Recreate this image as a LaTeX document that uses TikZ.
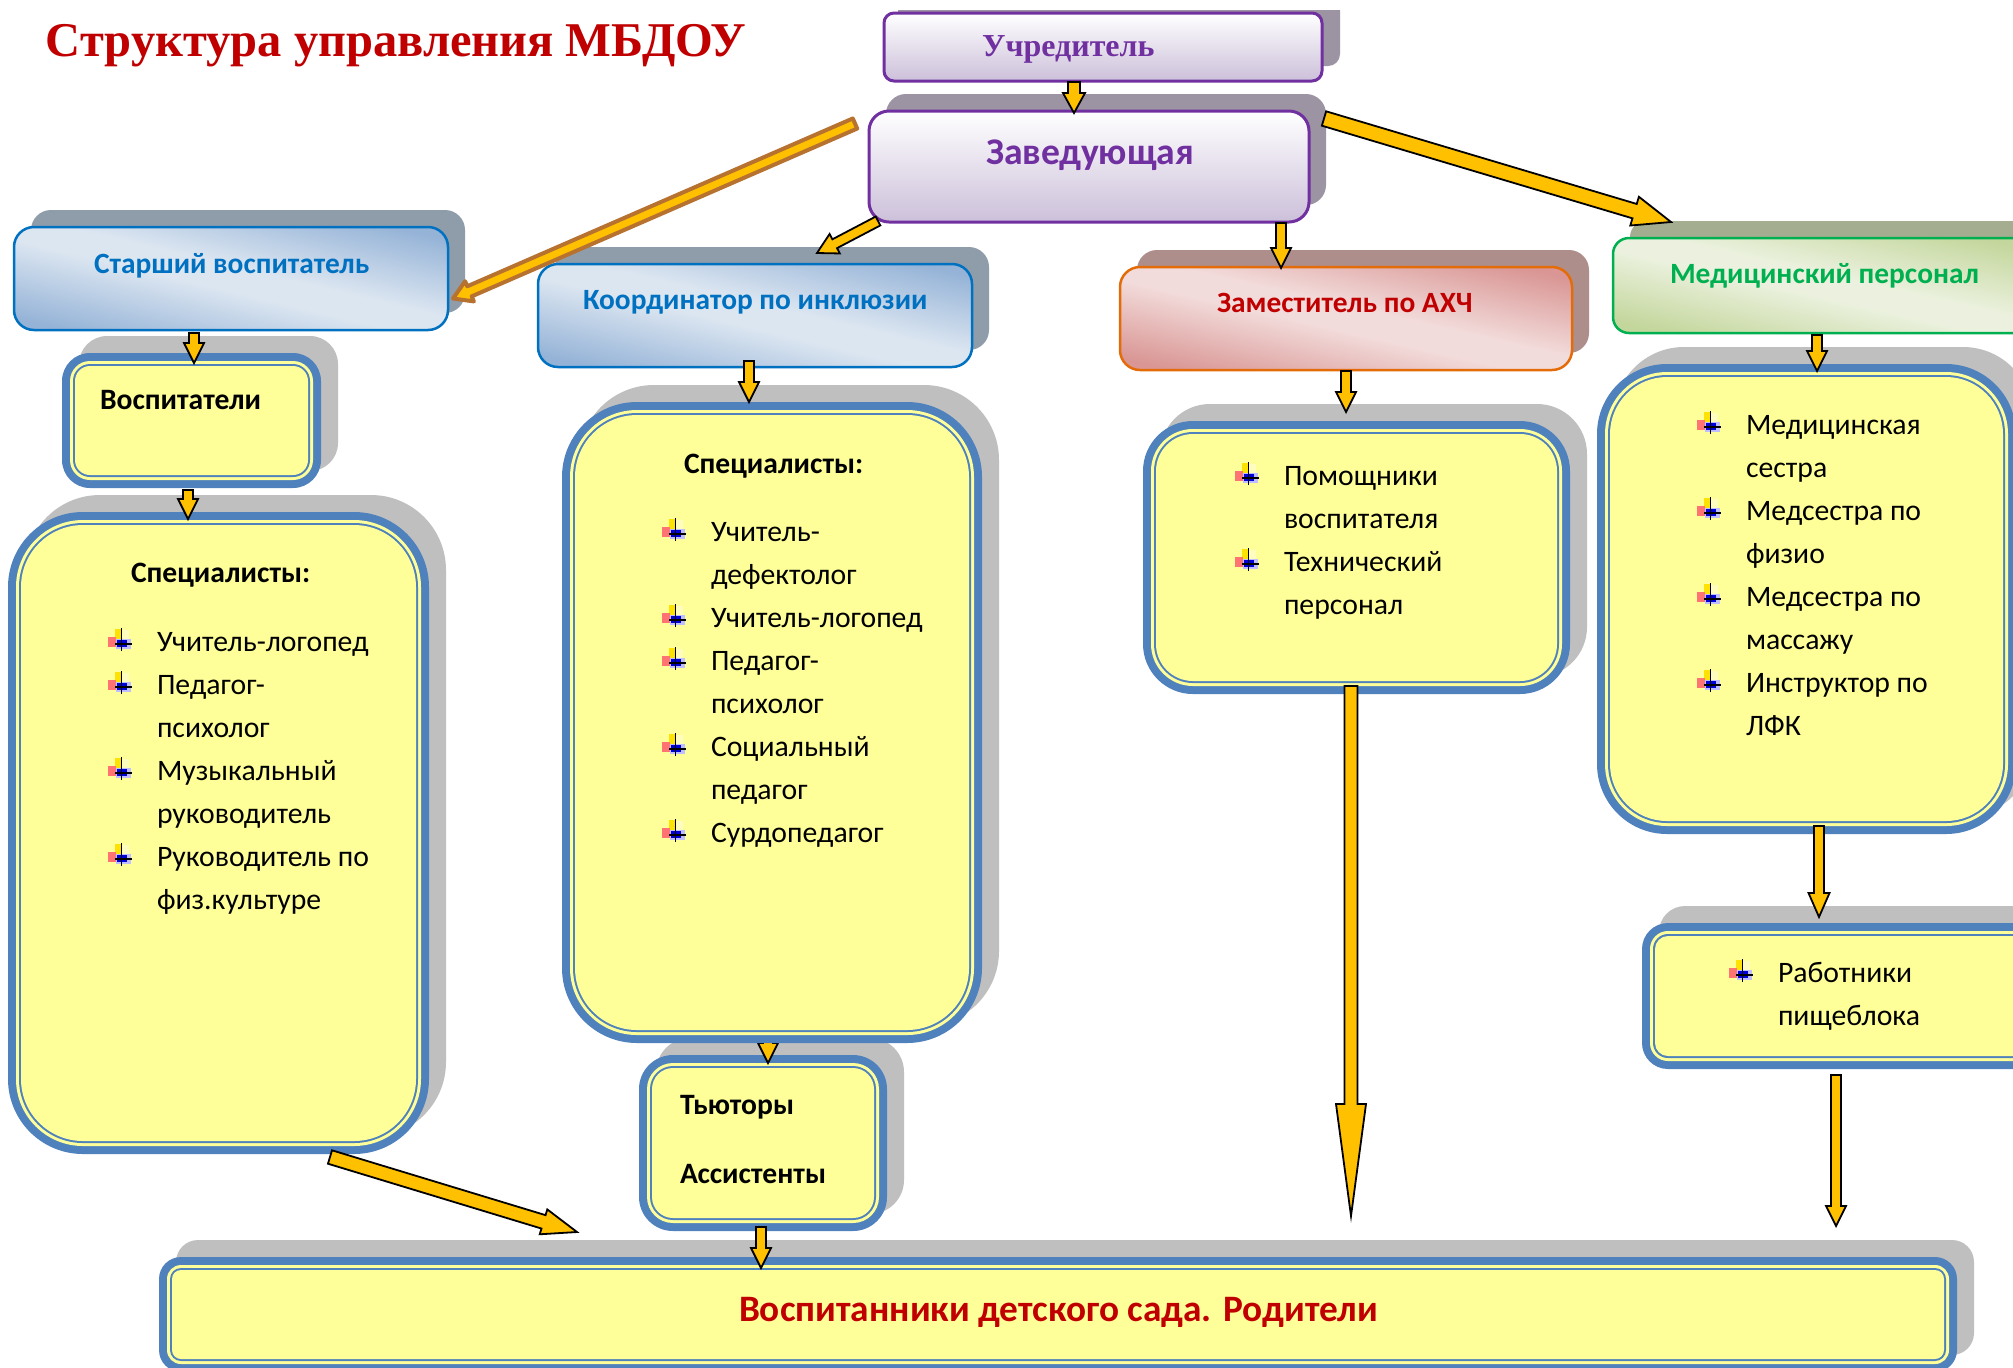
\documentclass[tikz,border=0pt]{standalone}
\usepackage{fontspec}
\setmainfont{Carlito}
\newfontfamily\serfont{Liberation Serif}
\usetikzlibrary{calc}
\definecolor{hyel}{HTML}{FFFF99}
\definecolor{hband}{HTML}{4F81BD}
\definecolor{hshad}{HTML}{BFBFBF}
\definecolor{harrow}{HTML}{FFC000}
\definecolor{hbrown}{HTML}{B8722F}
\definecolor{hred}{HTML}{C00000}
\definecolor{hpur}{HTML}{7030A0}
\definecolor{hpurl}{HTML}{CCC0DA}
\definecolor{hblue}{HTML}{0070C0}
\definecolor{hgreen}{HTML}{00B050}
\definecolor{horange}{HTML}{E36C09}
\definecolor{dbl}{HTML}{95B3D7}\definecolor{lbl}{HTML}{DCE6F1}
\definecolor{drd}{HTML}{D99694}\definecolor{lrd}{HTML}{F2DCDB}
\definecolor{dgr}{HTML}{C3D69B}\definecolor{lgr}{HTML}{EBF1DE}
\definecolor{shpp}{HTML}{9C93A3}
\definecolor{shb}{HTML}{8F9DAB}
\definecolor{shr}{HTML}{AE8E8A}
\definecolor{shg}{HTML}{A4AD90}
\pgfdeclareverticalshading{dgblue}{100bp}{color(0bp)=(dbl);color(28bp)=(dbl);color(47bp)=(lbl);color(53bp)=(lbl);color(72bp)=(dbl);color(100bp)=(dbl)}
\pgfdeclareverticalshading{dgred}{100bp}{color(0bp)=(drd);color(28bp)=(drd);color(47bp)=(lrd);color(53bp)=(lrd);color(72bp)=(drd);color(100bp)=(drd)}
\pgfdeclareverticalshading{dggreen}{100bp}{color(0bp)=(dgr);color(28bp)=(dgr);color(47bp)=(lgr);color(53bp)=(lgr);color(72bp)=(dgr);color(100bp)=(dgr)}
\tikzset{
  every node/.style={inner sep=0pt,outer sep=0pt},
  hdrpur/.style={draw=hpur,line width=1.5pt,top color=white,bottom color=hpurl},
  hdrblue/.style={draw=hblue,line width=1.25pt},
  hdrred/.style={draw=horange,line width=1.25pt},
  hdrgreen/.style={draw=hgreen,line width=1.25pt},
  li/.style={anchor=base west,yshift=-0.5pt,font=\fontsize{14.85}{17}\selectfont,text=black},
  lihead/.style={anchor=base west,yshift=-0.6pt,font=\fontsize{14.8}{17}\selectfont\bfseries,text=black},
  hdtext/.style={anchor=base west,yshift=-0.5pt,font=\fontsize{14.7}{17}\selectfont\bfseries},
  arrowbody/.style={fill=harrow,draw=black,line width=0.9pt,line join=miter},
  arrowbrown/.style={fill=harrow,draw=hbrown,line width=2pt,line join=round}
}
% header box: style, shadow colour, name, x0,y0,x1,y1,radius
\newcommand\headbox[8]{%
  \pgfmathsetmacro\rr{#8*0.5}%
  \fill[#2,rounded corners=\rr pt] ({#4+17},{#5-17}) rectangle ({#6+17},{#7-17});
  \node[#1,rounded corners=\rr pt,minimum width={(#6-#4)*0.5pt},minimum height={(#7-#5)*0.5pt},anchor=north west] (#3) at (#4,#5) {};
}
% header box with a diagonal gradient: shading, style, shadow colour, name, x0,y0,x1,y1 (radius from #9)
\newcommand\gradbox[9]{%
  \pgfmathsetmacro\rr{#9*0.5}%
  \pgfmathsetmacro\aa{atan((#8-#6)/(#7-#5))}%
  \pgfmathsetmacro\cx{(#5+#7)/2}\pgfmathsetmacro\cy{(#6+#8)/2}%
  \pgfmathsetmacro\hh{(#7-#5)/2*sin(\aa)+(#8-#6)/2*cos(\aa)}%
  \fill[#3,rounded corners=\rr pt] ({#5+17},{#6-17}) rectangle ({#7+17},{#8-17});
  \begin{scope}
    \clip[rounded corners=\rr pt] (#5,#6) rectangle (#7,#8);
    \begin{scope}[transform canvas={rotate around={-\aa:(\cx,\cy)}}]
      \shade[shading=#1] ({\cx-400},{\cy-\hh}) rectangle ({\cx+400},{\cy+\hh});
    \end{scope}
  \end{scope}
  \node[#2,rounded corners=\rr pt,minimum width={(#7-#5)*0.5pt},minimum height={(#8-#6)*0.5pt},anchor=north west] (#4) at (#5,#6) {};
}
% yellow box: name, x0,y0,x1,y1,radius
\newcommand\yelbox[6]{%
  \pgfmathsetmacro\rr{#6*0.5}\pgfmathsetmacro\rra{(#6-8)*0.5}\pgfmathsetmacro\rrb{(#6-11)*0.5}\pgfmathsetmacro\rrc{(#6-13)*0.5}%
  \fill[hshad,rounded corners=\rr pt] ({#2+17},{#3-17}) rectangle ({#4+17},{#5-17});
  \fill[hband,rounded corners=\rr pt] (#2,#3) rectangle (#4,#5);
  \fill[hyel,rounded corners=\rra pt] ({#2+8},{#3+8}) rectangle ({#4-8},{#5-8});
  \fill[hband,rounded corners=\rrb pt] ({#2+11},{#3+11}) rectangle ({#4-11},{#5-11});
  \fill[hyel,rounded corners=\rrc pt] ({#2+13},{#3+13}) rectangle ({#4-13},{#5-13});
  \node[minimum width={(#4-#2)*0.5pt},minimum height={(#5-#3)*0.5pt},anchor=north west] (#1) at (#2,#3) {};
}
% block arrow: style, tail, tip, half shaft, half head, head length (in px)
\newcommand\blockarrow[6]{%
  \coordinate (hh) at ($(#3)!#6*0.5pt!(#2)$);
  \draw[#1] ($(#2)!#4*0.5pt!90:(#3)$) -- ($(hh)!#4*0.5pt!90:(#3)$) -- ($(hh)!#5*0.5pt!90:(#3)$) -- (#3) -- ($(hh)!#5*0.5pt!-90:(#3)$) -- ($(hh)!#4*0.5pt!-90:(#3)$) -- ($(#2)!#4*0.5pt!-90:(#3)$) -- cycle;
}
% list bullet: text start x, baseline y
\newcommand\lbul[2]{%
  \begin{scope}[shift={({#1-49},{#2-21})}]
    \fill[yellow!85!orange] (7,0) rectangle (13,10);
    \fill[yellow!25!white] (13,1) rectangle (21,10);
    \fill[red!55!white] (0,8) rectangle (8,18);
    \fill[blue!25!white] (8,10) rectangle (23,20);
    \fill[blue!85!black] (9,11) rectangle (19,18);
    \draw[black,line width=0.6pt] (13.5,-1) -- (13.5,22);
    \draw[black,line width=0.6pt] (7,15) -- (24,15);
  \end{scope}}
\newcommand\itemline[4]{\node[li] (#1) at (#2,#3) {#4};}
\begin{document}
\begin{tikzpicture}[x=0.5pt,y=-0.5pt]
\useasboundingbox (0,0) rectangle (2013,1367);
\clip (0,0) rectangle (2013,1367);
\fill[white] (0,0) rectangle (2013,1367);

\begin{scope}
\clip (0,10) rectangle (2013,100);
\fill[shpp,rounded corners=6pt] (898,-5) rectangle (1340,66);
\end{scope}
\node[hdrpur,rounded corners=5pt,minimum width=219pt,minimum height=34pt,anchor=north west] (uch) at (884,13) {};

\headbox{hdrpur}{shpp}{zav}{869}{111}{1309}{222}{20}
\gradbox{dgblue}{hdrblue}{shb}{star}{14}{227}{448}{330}{20}
\gradbox{dgblue}{hdrblue}{shb}{koord}{538}{264}{972}{367}{20}
\gradbox{dgred}{hdrred}{shr}{zam}{1120}{267}{1572}{370}{20}
\gradbox{dggreen}{hdrgreen}{shg}{med}{1613}{238}{2035}{333}{16}

\yelbox{vosp}{62}{353}{321}{488}{28}
\yelbox{sl}{8}{512}{429}{1154}{75}
\yelbox{tut}{639}{1055}{887}{1231}{34}

\coordinate (a9t) at ($(tut.north)+(5,-20)$);
\coordinate (a9h) at ($(tut.north)+(5,8)$);
\blockarrow{arrowbody}{a9t}{a9h}{5}{10}{20}

\yelbox{sc}{562}{402}{982}{1043}{75}
\yelbox{ahch}{1143}{421}{1570}{694}{50}
\yelbox{sm}{1597}{364}{2016}{834}{70}
\yelbox{rab}{1642}{923}{2050}{1069}{26}
\yelbox{bot}{159}{1257}{1957}{1372}{22}

% connectors
\coordinate (a1t) at ($(uch.south)+(-29,1)$);
\coordinate (a1h) at ($(zav.north)+(-15,2)$);
\blockarrow{arrowbody}{a1t}{a1h}{6}{11}{20}
\coordinate (a2t) at ($(zav.west)+(-14,-43)$);
\coordinate (a2h) at ($(star.east)+(5,20)$);
\blockarrow{arrowbrown}{a2t}{a2h}{5.5}{11}{18}
\coordinate (a3t) at ($(zav.south)+(-211,-1)$);
\coordinate (a3h) at ($(koord.north)+(62,-11)$);
\blockarrow{arrowbody}{a3t}{a3h}{5}{11}{20}
\coordinate (a4t) at ($(zav.south)+(192,1)$);
\coordinate (a4h) at ($(zam.north)+(-65,1)$);
\blockarrow{arrowbody}{a4t}{a4h}{5}{10}{20}
\coordinate (a5t) at ($(zav.east)+(15,-48)$);
\coordinate (a5h) at ($(med.north)+(-153,-16)$);
\blockarrow{arrowbody}{a5t}{a5h}{7.5}{15}{38}
\coordinate (a6t) at ($(star.south)+(-37,3)$);
\coordinate (a6h) at ($(vosp.north)+(2.5,10)$);
\blockarrow{arrowbody}{a6t}{a6h}{5}{10}{20}
\coordinate (a7t) at ($(vosp.south)+(-3.5,2)$);
\coordinate (a7h) at ($(sl.north)+(-30.5,7)$);
\blockarrow{arrowbody}{a7t}{a7h}{5}{10}{20}
\coordinate (a8t) at ($(koord.south)+(-6,-6)$);
\coordinate (a8h) at ($(sc.north)+(-23,0)$);
\blockarrow{arrowbody}{a8t}{a8h}{5}{10}{20}
\coordinate (a10t) at ($(tut.south)+(-2,-4)$);
\coordinate (a10h) at ($(bot.north)+(-297,11)$);
\blockarrow{arrowbody}{a10t}{a10h}{5}{10}{20}
\coordinate (a11t) at ($(zam.south)+(0,1)$);
\coordinate (a11h) at ($(ahch.north)+(-10.5,-9)$);
\blockarrow{arrowbody}{a11t}{a11h}{5}{10}{20}
\coordinate (a12t) at ($(med.south)+(-7,2)$);
\coordinate (a12h) at ($(sm.north)+(10.5,7)$);
\blockarrow{arrowbody}{a12t}{a12h}{5}{10}{20}
\coordinate (a13t) at ($(ahch.south)+(-5.5,-8)$);
\coordinate (a13h) at (1351,1216);
\blockarrow{arrowbody}{a13t}{a13h}{6.5}{15}{112}
\coordinate (a14t) at ($(sm.south)+(12.5,-8)$);
\coordinate (a14h) at ($(rab.north)+(-27,-6)$);
\blockarrow{arrowbody}{a14t}{a14h}{5}{10.5}{24}
\coordinate (a15t) at ($(rab.south)+(-10,6)$);
\coordinate (a15h) at (1836,1226);
\blockarrow{arrowbody}{a15t}{a15h}{5}{10}{20}
\coordinate (a16t) at ($(sl.south)+(111.5,3)$);
\coordinate (a16h) at (577,1232);
\blockarrow{arrowbody}{a16t}{a16h}{7}{13}{35}

% texts
\node[anchor=base west,font=\serfont\fontsize{24.25}{26}\selectfont\bfseries,text=hred] (title) at (46,56) {Структура управления МБДОУ};
\node[anchor=base west,font=\serfont\fontsize{16}{18}\selectfont\bfseries,text=hpur] (tuch) at (982,56) {Учредитель};
\node[anchor=base west,font=\fontsize{18.8}{20}\selectfont\bfseries,text=hpur] (tzav) at (986,164) {Заведующая};
\node[hdtext,text=hblue] (tstar) at (94,272) {Старший воспитатель};
\node[hdtext,text=hblue] (tkoord) at (583,308) {Координатор по инклюзии};
\node[hdtext,text=hred] (tzam) at (1217,311) {Заместитель по АХЧ};
\node[hdtext,text=hgreen] (tmed) at (1670,282) {Медицинский персонал};
\node[anchor=base west,font=\fontsize{18.66}{20}\selectfont\bfseries,text=hred] (tbot) at (739,1321) {Воспитанники детского сада. Родители};

\node[lihead] (tvosp) at (100,408) {Воспитатели};
\node[lihead] (tsl) at (131,581) {Специалисты:};
\itemline{sl1}{157}{650}{Учитель-логопед}
\itemline{sl2}{157}{693}{Педагог-}
\itemline{sl3}{157}{736}{психолог}
\itemline{sl4}{157}{779}{Музыкальный}
\itemline{sl5}{157}{822}{руководитель}
\itemline{sl6}{157}{865}{Руководитель по}
\itemline{sl7}{157}{908}{физ.культуре}
\lbul{157}{650}\lbul{157}{693}\lbul{157}{779}\lbul{157}{865}

\node[lihead] (tsc) at (684,472) {Специалисты:};
\itemline{sc1}{711}{540}{Учитель-}
\itemline{sc2}{711}{583}{дефектолог}
\itemline{sc3}{711}{626}{Учитель-логопед}
\itemline{sc4}{711}{669}{Педагог-}
\itemline{sc5}{711}{712}{психолог}
\itemline{sc6}{711}{755}{Социальный}
\itemline{sc7}{711}{798}{педагог}
\itemline{sc8}{711}{841}{Сурдопедагог}
\lbul{711}{540}\lbul{711}{626}\lbul{711}{669}\lbul{711}{755}\lbul{711}{841}

\node[lihead] (ttut) at (680,1113) {Тьюторы};
\node[lihead] (tass) at (680,1182) {Ассистенты};

\itemline{ah1}{1284}{484}{Помощники}
\itemline{ah2}{1284}{527}{воспитателя}
\itemline{ah3}{1284}{570}{Технический}
\itemline{ah4}{1284}{613}{персонал}
\lbul{1284}{484}\lbul{1284}{570}

\itemline{sm1}{1746}{433}{Медицинская}
\itemline{sm2}{1746}{476}{сестра}
\itemline{sm3}{1746}{519}{Медсестра по}
\itemline{sm4}{1746}{562}{физио}
\itemline{sm5}{1746}{605}{Медсестра по}
\itemline{sm6}{1746}{648}{массажу}
\itemline{sm7}{1746}{691}{Инструктор по}
\itemline{sm8}{1746}{734}{ЛФК}
\lbul{1746}{433}\lbul{1746}{519}\lbul{1746}{605}\lbul{1746}{691}

\itemline{ra1}{1778}{981}{Работники}
\itemline{ra2}{1778}{1024}{пищеблока}
\lbul{1778}{981}
\end{tikzpicture}
\end{document}
